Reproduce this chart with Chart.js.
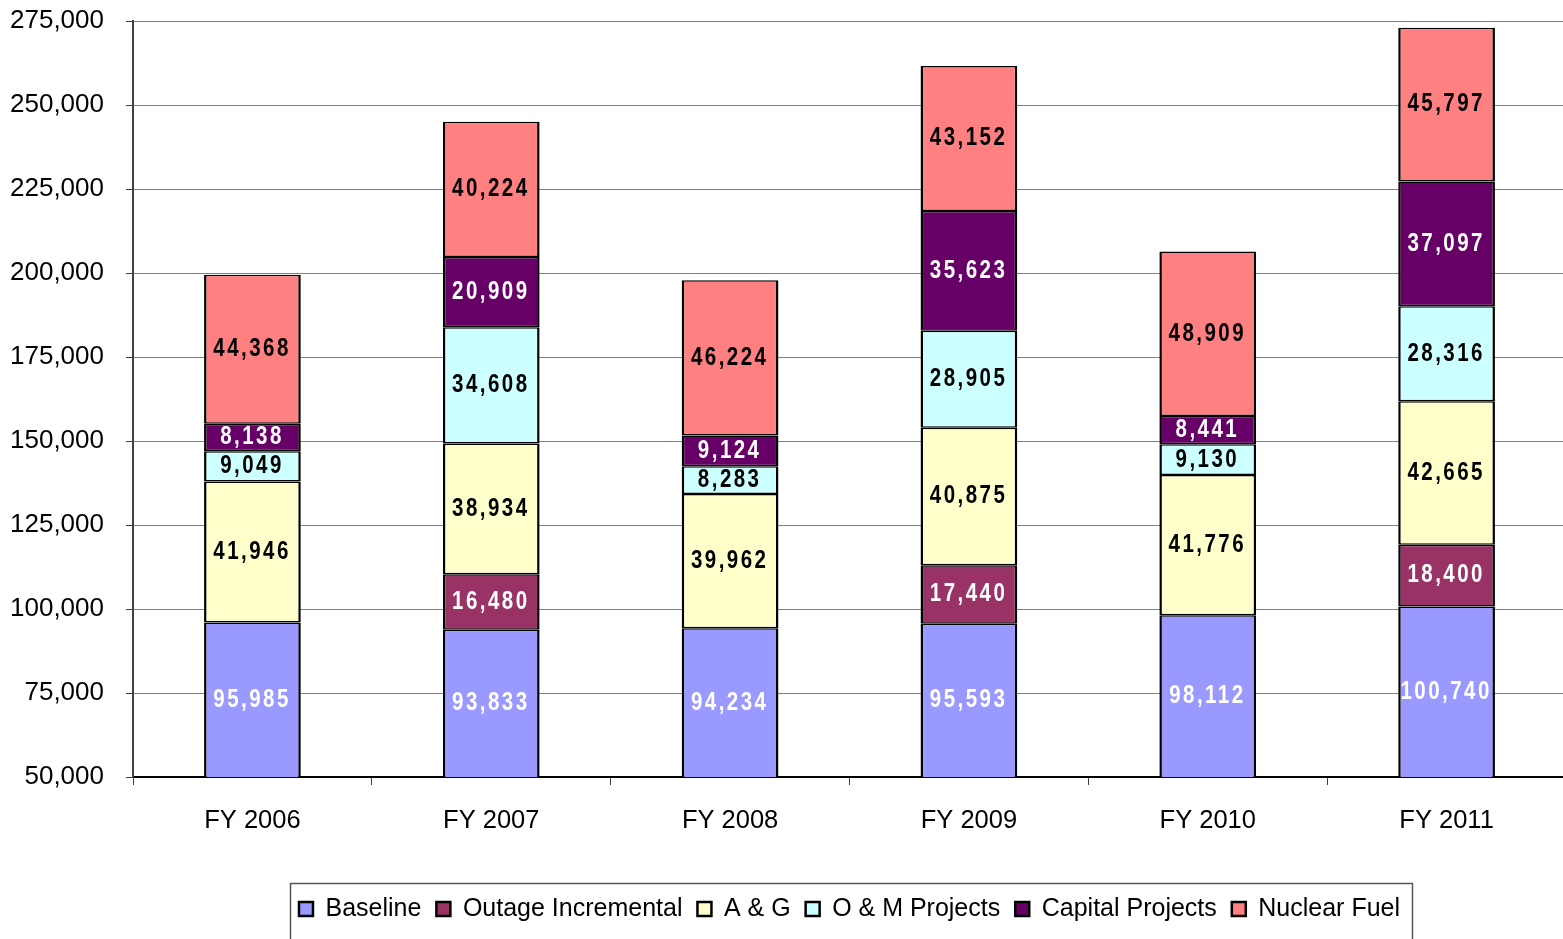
<!DOCTYPE html>
<html>
<head>
<meta charset="utf-8">
<script src="https://cdn.jsdelivr.net/npm/chart.js@4.4.1/dist/chart.umd.min.js"></script>
<style>
  html, body { margin: 0; padding: 0; background: #ffffff; overflow: hidden; }
  #wrap { position: relative; width: 1568px; height: 939px; }
</style>
</head>
<body>
<div id="wrap"><canvas id="costChart"></canvas></div>
<script>
// Fiscal years on the category axis
const categories = ['FY 2006', 'FY 2007', 'FY 2008', 'FY 2009', 'FY 2010', 'FY 2011'];

// Series names (stack order, bottom to top)
const seriesNames = ['Baseline', 'Outage Incremental', 'A & G', 'O & M Projects', 'Capital Projects', 'Nuclear Fuel'];

// Series values per fiscal year
const baseline          = [95985, 93833, 94234, 95593, 98112, 100740];
const outageIncremental = [null, 16480, null, 17440, null, 18400];
const aAndG             = [41946, 38934, 39962, 40875, 41776, 42665];
const oAndMProjects     = [9049, 34608, 8283, 28905, 9130, 28316];
const capitalProjects   = [8138, 20909, 9124, 35623, 8441, 37097];
const nuclearFuel       = [44368, 40224, 46224, 43152, 48909, 45797];

// Value axis tick labels
const yTickValues = [50000, 75000, 100000, 125000, 150000, 175000, 200000, 225000, 250000, 275000];

// Styling
const fillColors  = ['#9999FF', '#993366', '#FFFFCC', '#CCFFFF', '#660066', '#FF8080'];
const labelColors = ['#FFFFFF', '#FFFFFF', '#000000', '#000000', '#FFFFFF', '#000000'];

const seriesValues = [baseline, outageIncremental, aAndG, oAndMProjects, capitalProjects, nuclearFuel];
const FONT = '"Liberation Sans", Arial, sans-serif';

// Value labels centred in the visible part of every segment
const segmentLabels = {
  id: 'segmentLabels',
  afterDatasetsDraw(chart) {
    const { ctx, chartArea } = chart;
    const spacing = 3;
    ctx.save();
    ctx.font = 'bold 25px ' + FONT;
    ctx.textAlign = 'center';
    ctx.textBaseline = 'middle';
    chart.data.datasets.forEach((ds, di) => {
      const meta = chart.getDatasetMeta(di);
      meta.data.forEach((bar, i) => {
        const v = ds.data[i];
        if (v == null) return;
        const { x, y, base } = bar.getProps(['x', 'y', 'base'], true);
        const top = Math.max(Math.min(y, base), chartArea.top);
        const bottom = Math.min(Math.max(y, base), chartArea.bottom);
        const cy = (top + bottom) / 2;
        ctx.save();
        ctx.translate(x, cy);
        ctx.scale(0.82, 1);
        ctx.letterSpacing = spacing + 'px';
        ctx.fillStyle = labelColors[di];
        ctx.fillText(v.toLocaleString('en-US'), spacing / 2 - 2, 0);
        ctx.restore();
      });
    });
    ctx.restore();
  }
};

// Frame around the legend row
const legendFrame = {
  id: 'legendFrame',
  afterDraw(chart) {
    const lg = chart.legend;
    const boxes = lg && lg.legendHitBoxes;
    if (!boxes || !boxes.length) return;
    const left = Math.min(...boxes.map(b => b.left)) - 9;
    const right = Math.max(...boxes.map(b => b.left + b.width)) + 12;
    const mid = boxes[0].top + boxes[0].height / 2;
    const top = mid - 26;
    const ctx = chart.ctx;
    ctx.save();
    ctx.strokeStyle = '#555555';
    ctx.lineWidth = 1.5;
    ctx.strokeRect(Math.round(left) + 0.5, Math.round(top) + 0.5, Math.round(right - left), 80);
    ctx.restore();
  }
};

new Chart(document.getElementById('costChart'), {
  type: 'bar',
  data: {
    labels: categories,
    datasets: seriesNames.map((name, k) => ({
      label: name,
      data: seriesValues[k],
      backgroundColor: fillColors[k],
      borderColor: '#000000',
      borderWidth: { left: 2.5, right: 2.5, top: 1.5, bottom: 1.5 },
      borderSkipped: false,
      categoryPercentage: 1.0,
      barPercentage: 0.405
    }))
  },
  options: {
    responsive: true,
    maintainAspectRatio: false,
    animation: false,
    devicePixelRatio: 1,
    layout: { padding: { top: 21, left: 0, right: 2, bottom: 7.5 } },
    plugins: {
      title: { display: false },
      tooltip: { enabled: false },
      legend: {
        display: true,
        position: 'bottom',
        fullSize: false,
        align: 'center',
        labels: {
          color: '#000000',
          font: { family: FONT, size: 25 },
          boxWidth: 14,
          boxHeight: 14,
          padding: 15,
          generateLabels(chart) {
            return Chart.defaults.plugins.legend.labels.generateLabels(chart)
              .map(it => Object.assign({}, it, { lineWidth: 2.5, strokeStyle: '#000000' }));
          }
        }
      }
    },
    scales: {
      x: {
        stacked: true,
        offset: true,
        grid: {
          display: true,
          drawOnChartArea: false,
          drawTicks: true,
          tickLength: 8,
          tickColor: '#404040',
          offset: true
        },
        border: { display: true, color: '#000000', width: 2 },
        ticks: {
          color: '#000000',
          font: { family: FONT, size: 25.5 },
          padding: 21,
          maxRotation: 0
        },
        afterFit(scale) { scale.height = 104.5; }
      },
      y: {
        stacked: true,
        min: yTickValues[0],
        max: yTickValues[yTickValues.length - 1],
        afterBuildTicks(scale) { scale.ticks = yTickValues.map(v => ({ value: v })); },
        grid: {
          color: '#808080',
          lineWidth: 1,
          drawTicks: true,
          tickLength: 7,
          tickColor: '#404040'
        },
        border: { display: true, color: '#404040', width: 2 },
        ticks: {
          color: '#000000',
          font: { family: FONT, size: 26 },
          padding: 22,
          callback: v => Number(v).toLocaleString('en-US')
        },
        afterFit(scale) {
          scale.width = 133;
          scale.paddingTop = 0;
          scale.paddingBottom = 0;
        }
      }
    }
  },
  plugins: [segmentLabels, legendFrame]
});
</script>
</body>
</html>
